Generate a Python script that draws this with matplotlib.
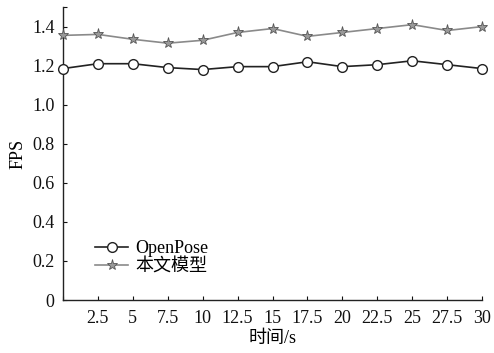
import matplotlib
matplotlib.use("Agg")
import matplotlib.pyplot as plt

x = [0, 2.5, 5, 7.5, 10, 12.5, 15, 17.5, 20, 22.5, 25, 27.5, 30]
openpose = [1.185, 1.21, 1.21, 1.19, 1.18, 1.195, 1.195, 1.22, 1.195, 1.205, 1.225, 1.205, 1.185]
ours = [1.355, 1.36, 1.335, 1.315, 1.33, 1.37, 1.39, 1.35, 1.37, 1.39, 1.41, 1.38, 1.40]
xtick_labels = ["", "2.5", "5", "7.5", "10", "12.5", "15", "17.5", "20", "22.5", "25", "27.5", "30"]
yticks = [0, 0.2, 0.4, 0.6, 0.8, 1.0, 1.2, 1.4, 1.5]
ytick_labels = ["0", "0.2", "0.4", "0.6", "0.8", "1.0", "1.2", "1.4", ""]

plt.rcParams['font.family'] = ['Liberation Serif', 'Noto Sans CJK SC']

fig = plt.figure(figsize=(4.94, 3.53), dpi=100)
ax = fig.add_axes([0.1275, 0.150, 0.8485, 0.830])

ax.plot(x, openpose, color='#222222', lw=1.2, marker='o', markersize=7,
        markerfacecolor='white', markeredgecolor='#222222', markeredgewidth=1.0,
        label='OpenPose', clip_on=False, zorder=3)
ax.plot(x, ours, color='#8a8a8a', lw=1.2, marker='*', markersize=8,
        markerfacecolor='#999999', markeredgecolor='#555555', markeredgewidth=0.6,
        label='本文模型', clip_on=False, zorder=3)

ax.set_xlim(0, 30)
ax.set_ylim(0, 1.5)
ax.set_xticks(x)
ax.set_xticklabels(xtick_labels)
ax.set_yticks(yticks)
ax.set_yticklabels(ytick_labels)
ax.tick_params(direction='in', length=3, width=0.8, labelsize=13, colors='#111111')
ax.tick_params(axis='x', pad=7)
ax.tick_params(axis='y', pad=6)
ax.spines['top'].set_visible(False)
ax.spines['right'].set_visible(False)
for s in ['left', 'bottom']:
    ax.spines[s].set_linewidth(1.0)
    ax.spines[s].set_color('#222222')

ax.set_xlabel('时间/s', fontsize=13, labelpad=2)
ax.set_ylabel('FPS', fontsize=13, labelpad=4)

leg = ax.legend(loc='lower left', bbox_to_anchor=(0.06, 0.06), frameon=False,
                fontsize=13, handlelength=1.8, handletextpad=0.4,
                labelspacing=0.05, borderaxespad=0)

fig.savefig('out.png', dpi=100)
